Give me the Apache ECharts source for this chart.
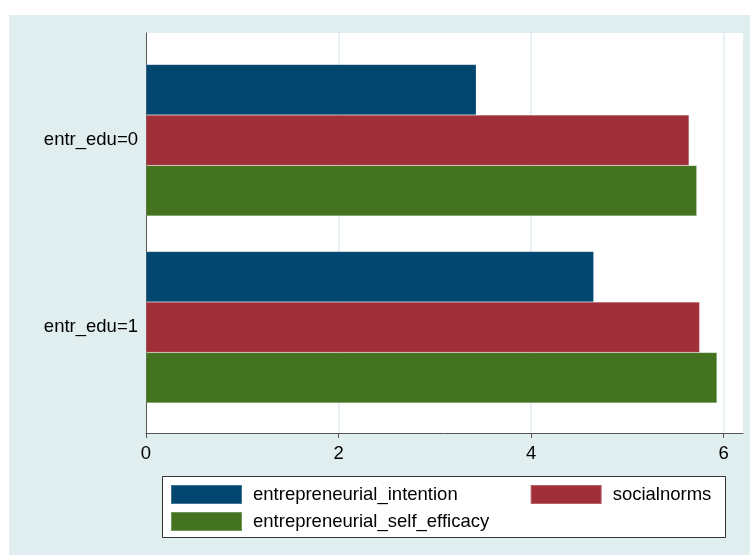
<!DOCTYPE html>
<html>
<head>
<meta charset="utf-8">
<script src="https://cdn.jsdelivr.net/npm/echarts@6/dist/echarts.min.js"></script>
<style>
html,body{margin:0;padding:0;background:#fff;}
#c{width:750px;height:555px;}
</style>
</head>
<body>
<div id="c"></div>
<script>
var categories = ['entr_edu=0', 'entr_edu=1'];
var seriesNames = ['entrepreneurial_intention', 'socialnorms', 'entrepreneurial_self_efficacy'];
var intention = [3.43, 4.65];
var socialnorms = [5.64, 5.75];
var selfEfficacy = [5.72, 5.93];
var xTicks = [0, 2, 4, 6];

var colors = ['#00466f', '#a02f3a', '#447320'];
var FONT = '"Liberation Sans", Arial, sans-serif';
var FS = 18.5;
var values = [intention, socialnorms, selfEfficacy];

var chart = echarts.init(document.getElementById('c'), null, {renderer: 'canvas'});

var series = seriesNames.map(function (n, i) {
  return {
    name: n, type: 'bar', xAxisIndex: 0, yAxisIndex: 0,
    data: values[i], barWidth: 50.5, barGap: '0%',
    itemStyle: {color: colors[i], borderColor: 'rgba(255,255,255,0.25)', borderWidth: 0.6},
    emphasis: {disabled: true}
  };
});

chart.setOption({
  animation: false,
  backgroundColor: '#ffffff',
  textStyle: {fontFamily: FONT},
  graphic: [
    {type: 'rect', z: -20, silent: true, shape: {x: 9, y: 15, width: 741, height: 540}, style: {fill: '#e1eeef'}},
    {type: 'rect', z: -19, silent: true, shape: {x: 146, y: 33, width: 597, height: 400}, style: {fill: '#ffffff'}},
    {type: 'rect', z: 1, silent: true, shape: {x: 162.5, y: 476.5, width: 563, height: 61}, style: {fill: '#ffffff', stroke: '#333333', lineWidth: 1}}
  ],
  grid: [
    {left: 146, right: 7, top: 46.7, height: 374, containLabel: false},
    {left: 146, right: 7, top: 33, height: 400, containLabel: false}
  ],
  xAxis: [
    {type: 'value', gridIndex: 0, min: 0, max: 6.2, show: false},
    {type: 'value', gridIndex: 1, min: 0, max: 6.2,
      axisLine: {show: true, lineStyle: {color: '#555555', width: 1}},
      axisTick: {show: true, length: 5, customValues: xTicks, lineStyle: {color: '#555555'}},
      axisLabel: {customValues: xTicks, color: '#000000', fontSize: FS, fontFamily: FONT, margin: 11},
      splitLine: {show: true, lineStyle: {color: '#e3ecf0', width: 1.5}}
    }
  ],
  yAxis: [
    {type: 'category', gridIndex: 0, data: categories, inverse: true,
      axisLine: {show: false}, axisTick: {show: false},
      axisLabel: {color: '#000000', fontSize: FS, fontFamily: FONT, margin: 8, padding: [4, 0, 0, 0]},
      splitLine: {show: false}
    },
    {type: 'value', gridIndex: 1, min: 0, max: 1,
      axisLine: {show: true, lineStyle: {color: '#555555', width: 1}},
      axisTick: {show: false}, axisLabel: {show: false}, splitLine: {show: false}
    }
  ],
  legend: [
    {data: [seriesNames[0], seriesNames[1]], left: 170, top: 484, padding: 0, z: 5,
      orient: 'horizontal', icon: 'rect', itemWidth: 71, itemHeight: 19, itemGap: 72,
      textStyle: {fontSize: FS, color: '#000000', fontFamily: FONT, padding: [0, 0, 0, 6]}, selectedMode: false},
    {data: [seriesNames[2]], left: 170, top: 511, padding: 0, z: 5,
      orient: 'horizontal', icon: 'rect', itemWidth: 71, itemHeight: 19,
      textStyle: {fontSize: FS, color: '#000000', fontFamily: FONT, padding: [0, 0, 0, 6]}, selectedMode: false}
  ],
  series: series
});
</script>
</body>
</html>
